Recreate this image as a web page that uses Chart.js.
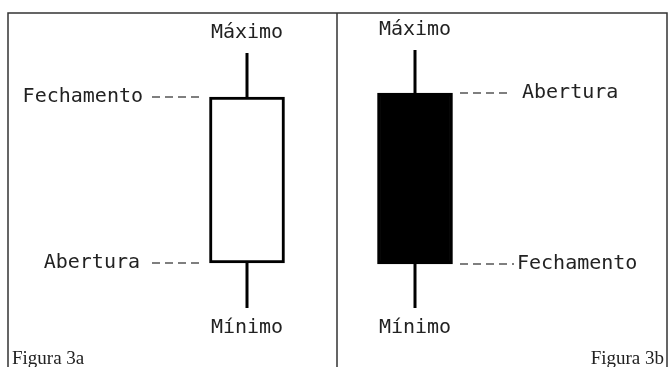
<!DOCTYPE html>
<html>
<head>
<meta charset="utf-8">
<script src="https://cdn.jsdelivr.net/npm/chart.js@4/dist/chart.umd.min.js"></script>
<style>
html,body{margin:0;padding:0;background:#fff;}
canvas{display:block;}
</style>
</head>
<body>
<canvas id="c" width="670" height="367"></canvas>
<script>
// Candles (price units on the vertical scale, x = horizontal position)
const candleX     = [247, 415];
const candleOpen  = [104, 274];
const candleClose = [270, 103];
const candleHigh  = [314, 317];
const candleLow   = [59, 59];
const candleFill  = ['#ffffff', '#000000'];
const candleNames = ['Figura 3a', 'Figura 3b'];

// Labels
const highLabel = 'Máximo';
const lowLabel  = 'Mínimo';
const openLabel = 'Abertura';
const closeLabel = 'Fechamento';

// Leader line extents [from, to] per candle side
const leaderLeft  = [[152, 201], [152, 201]];   // candle 1: close, open
const leaderRight = [[460, 508], [460, 514]];   // candle 2: open, close

const datasets = [];
// bodies as floating bars
datasets.push({
  type: 'bar',
  data: candleX.map((x, i) => ({x: x, y: [candleOpen[i], candleClose[i]]})),
  backgroundColor: candleFill,
  borderColor: '#000',
  borderWidth: 3,
  borderSkipped: false,
  barThickness: 75,
  order: 1
});
// wicks
candleX.forEach((x, i) => {
  const top = Math.max(candleOpen[i], candleClose[i]);
  const bot = Math.min(candleOpen[i], candleClose[i]);
  [[candleHigh[i], top], [bot, candleLow[i]]].forEach(seg => {
    datasets.push({
      type: 'line',
      data: [{x: x, y: seg[0]}, {x: x, y: seg[1]}],
      borderColor: '#000', borderWidth: 3, pointRadius: 0, order: 2
    });
  });
});
// leaders
const leaderY = [[candleClose[0], candleOpen[0]], [candleOpen[1], candleClose[1]]];
[leaderLeft, leaderRight].forEach((side, i) => {
  side.forEach((ext, j) => {
    datasets.push({
      type: 'line',
      data: [{x: ext[0], y: leaderY[i][j]}, {x: ext[1], y: leaderY[i][j]}],
      borderColor: '#555', borderWidth: 1.5, borderDash: [8, 5], pointRadius: 0, order: 3
    });
  });
});

const textPlugin = {
  id: 'texts',
  beforeDraw(chart) {
    const c = chart.ctx;
    c.save();
    c.fillStyle = '#fff';
    c.fillRect(0, 0, chart.width, chart.height);
    c.strokeStyle = '#333';
    c.lineWidth = 1.5;
    c.beginPath();
    c.moveTo(8, 367); c.lineTo(8, 13); c.lineTo(667, 13); c.lineTo(667, 367);
    c.moveTo(337, 13); c.lineTo(337, 367);
    c.stroke();
    c.restore();
  },
  afterDatasetsDraw(chart) {
    const c = chart.ctx, xs = chart.scales.x, ys = chart.scales.y;
    c.save();
    c.fillStyle = '#222';
    c.font = '20px "DejaVu Sans Mono"';
    c.textBaseline = 'middle';
    candleX.forEach((x, i) => {
      const px = xs.getPixelForValue(x);
      c.textAlign = 'center';
      c.fillText(highLabel, px, ys.getPixelForValue(candleHigh[i]) - 20);
      c.fillText(lowLabel, px, ys.getPixelForValue(candleLow[i]) + 20);
    });
    c.textAlign = 'right';
    c.fillText(closeLabel, xs.getPixelForValue(leaderLeft[0][0]) - 9, ys.getPixelForValue(candleClose[0]));
    c.fillText(openLabel, xs.getPixelForValue(leaderLeft[1][0]) - 12, ys.getPixelForValue(candleOpen[0]));
    c.textAlign = 'left';
    c.fillText(openLabel, xs.getPixelForValue(leaderRight[0][1]) + 14, ys.getPixelForValue(candleOpen[1]));
    c.fillText(closeLabel, xs.getPixelForValue(leaderRight[1][1]) + 3, ys.getPixelForValue(candleClose[1]));
    c.font = '19px "Liberation Serif"';
    c.fillStyle = '#222';
    c.textBaseline = 'alphabetic';
    c.textAlign = 'left';
    c.fillText(candleNames[0], 12, 364);
    c.textAlign = 'right';
    c.fillText(candleNames[1], 664, 364);
    c.restore();
  }
};

new Chart(document.getElementById('c'), {
  data: { datasets: datasets },
  options: {
    responsive: false,
    animation: false,
    layout: { padding: 0 },
    plugins: { legend: { display: false }, tooltip: { enabled: false } },
    scales: {
      x: { type: 'linear', min: 0, max: 670, offset: false, display: false },
      y: { type: 'linear', min: 0, max: 367, display: false }
    }
  },
  plugins: [textPlugin]
});
</script>
</body>
</html>
